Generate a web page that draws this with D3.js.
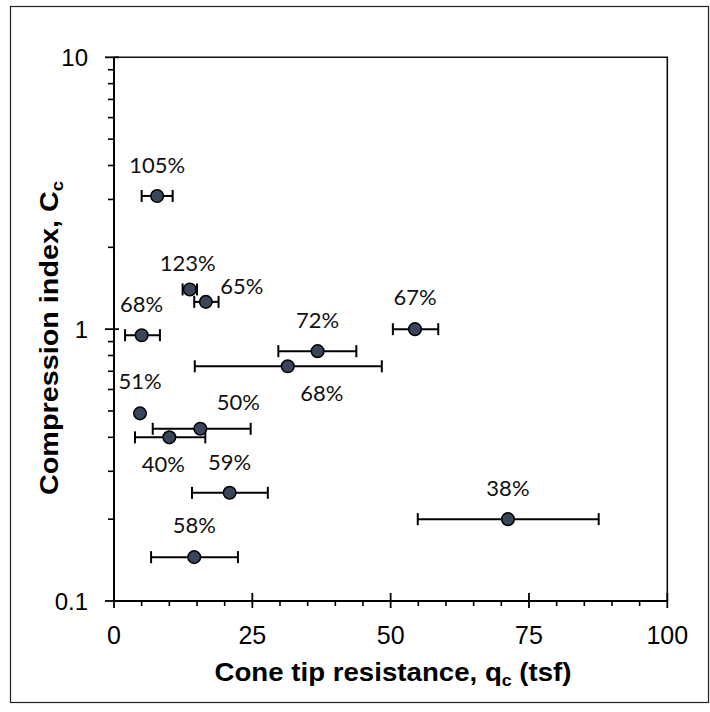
<!DOCTYPE html>
<html>
<head>
<meta charset="utf-8">
<script src="https://cdn.jsdelivr.net/npm/d3@7"></script>
<style>
  body { margin: 0; background: #fff; }
  svg { display: block; }
</style>
</head>
<body>
<svg id="chart" width="710" height="712"></svg>
<script>
// cone tip resistance (tsf) and compression index per sample
var qc     = [7.8, 13.7, 16.6, 5.0, 36.8, 31.4, 54.4, 71.2, 4.7, 15.6, 10.0, 20.9, 14.5];
var cc     = [3.09, 1.40, 1.26, 0.95, 0.83, 0.73, 1.00, 0.20, 0.49, 0.43, 0.40, 0.25, 0.145];
// horizontal error bar ends (null = no bar)
var qcLow  = [5.0, 12.4, 14.5, 2.0, 29.7, 14.6, 50.4, 54.9, null, 7.0, 3.8, 14.1, 6.7];
var qcHigh = [10.6, 15.0, 18.9, 8.3, 43.8, 48.4, 58.6, 87.6, null, 24.7, 16.5, 27.8, 22.4];
var pctLabels = ["105%", "123%", "65%", "68%", "72%", "68%", "67%", "38%", "51%", "50%", "40%", "59%", "58%"];

var xTicks = [0, 25, 50, 75, 100];
var yTicks = [0.1, 1, 10];

// label placement relative to its marker (layout only)
var labelShift = [[0, -23], [-2, -18], [36, -8], [0, -23], [0, -23], [34, 35], [0, -24],
                  [0, -23], [0, -24], [38, -19], [-6, 35], [0, -23], [0, -24]];

var svg = d3.select('#chart');
var m = {left: 114, top: 57.3, right: 667.3, bottom: 601};

var x = d3.scaleLinear().domain([0, 100]).range([m.left, m.right]);
var y = d3.scaleLog().domain([0.1, 10]).range([m.bottom, m.top]);

// outer frame
svg.append('rect')
    .attr('x', 10.5).attr('y', 6.5)
    .attr('width', 698).attr('height', 696)
    .attr('fill', 'none').attr('stroke', '#222').attr('stroke-width', 1.2);

// top and right plot edges
svg.append('path')
    .attr('d', 'M' + m.left + ',' + m.top + 'H' + m.right + 'V' + m.bottom)
    .attr('fill', 'none').attr('stroke', '#111').attr('stroke-width', 1.6);

// minor ticks
var xMinor = d3.range(0, 101, 5).filter(function(d){ return d % 25 !== 0; });
svg.selectAll('line.xminor').data(xMinor).enter().append('line')
    .attr('class', 'xminor')
    .attr('x1', x).attr('x2', x)
    .attr('y1', m.bottom).attr('y2', m.bottom + 5)
    .attr('stroke', '#000').attr('stroke-width', 1.6);

var yMinor = [];
[0.1, 1].forEach(function(b){
    d3.range(2, 10).forEach(function(k){ yMinor.push(b * k); });
});
svg.selectAll('line.yminor').data(yMinor).enter().append('line')
    .attr('class', 'yminor')
    .attr('x1', m.left - 6).attr('x2', m.left)
    .attr('y1', y).attr('y2', y)
    .attr('stroke', '#000').attr('stroke-width', 1.6);

// major ticks (cross the axis)
svg.selectAll('line.xmajor').data(xTicks).enter().append('line')
    .attr('class', 'xmajor')
    .attr('x1', x).attr('x2', x)
    .attr('y1', m.bottom - 8).attr('y2', m.bottom + 7)
    .attr('stroke', '#000').attr('stroke-width', 1.8);

svg.selectAll('line.ymajor').data(yTicks).enter().append('line')
    .attr('class', 'ymajor')
    .attr('x1', m.left - 9).attr('x2', m.left + 5)
    .attr('y1', y).attr('y2', y)
    .attr('stroke', '#000').attr('stroke-width', 1.8);

// axis lines
svg.append('line')
    .attr('x1', m.left).attr('x2', m.left)
    .attr('y1', m.top).attr('y2', m.bottom)
    .attr('stroke', '#000').attr('stroke-width', 2);
svg.append('line')
    .attr('x1', m.left).attr('x2', m.right)
    .attr('y1', m.bottom).attr('y2', m.bottom)
    .attr('stroke', '#000').attr('stroke-width', 2);

// tick labels
var axisFont = '"Liberation Sans", Arial, sans-serif';
svg.selectAll('text.xlab').data(xTicks).enter().append('text')
    .attr('class', 'xlab')
    .attr('x', x).attr('y', 644)
    .attr('text-anchor', 'middle')
    .attr('font-family', axisFont).attr('font-size', 25)
    .text(function(d){ return d; });

svg.selectAll('text.ylab').data(yTicks).enter().append('text')
    .attr('class', 'ylab')
    .attr('x', 88).attr('y', function(d){ return y(d) + 8.5; })
    .attr('text-anchor', 'end')
    .attr('font-family', axisFont).attr('font-size', 24)
    .text(function(d){ return d; });

// axis titles
var xt = svg.append('text')
    .attr('x', 393).attr('y', 681)
    .attr('text-anchor', 'middle')
    .attr('font-family', axisFont).attr('font-size', 25).attr('font-weight', 'bold')
    .attr('textLength', 357).attr('lengthAdjust', 'spacingAndGlyphs');
xt.append('tspan').text('Cone tip resistance,  q');
xt.append('tspan').attr('font-size', 16).attr('dy', 5).text('c');
xt.append('tspan').attr('dy', -5).text(' (tsf)');

var yt = svg.append('text')
    .attr('transform', 'translate(58,338) rotate(-90)')
    .attr('text-anchor', 'middle')
    .attr('font-family', axisFont).attr('font-size', 25).attr('font-weight', 'bold')
    .attr('textLength', 314).attr('lengthAdjust', 'spacingAndGlyphs');
yt.append('tspan').text('Compression index, C');
yt.append('tspan').attr('font-size', 16).attr('dy', 5).text('c');

// data
var pts = qc.map(function(d, i){
    return {q: d, c: cc[i], lo: qcLow[i], hi: qcHigh[i], label: pctLabels[i], shift: labelShift[i]};
});

var bars = svg.append('g').selectAll('g').data(pts.filter(function(d){ return d.lo !== null; }))
    .enter().append('g')
    .attr('stroke', '#000').attr('stroke-width', 2);
bars.append('line')
    .attr('x1', function(d){ return x(d.lo); }).attr('x2', function(d){ return x(d.hi); })
    .attr('y1', function(d){ return y(d.c); }).attr('y2', function(d){ return y(d.c); });
bars.append('line')
    .attr('x1', function(d){ return x(d.lo); }).attr('x2', function(d){ return x(d.lo); })
    .attr('y1', function(d){ return y(d.c) - 6; }).attr('y2', function(d){ return y(d.c) + 6; });
bars.append('line')
    .attr('x1', function(d){ return x(d.hi); }).attr('x2', function(d){ return x(d.hi); })
    .attr('y1', function(d){ return y(d.c) - 6; }).attr('y2', function(d){ return y(d.c) + 6; });

svg.append('g').selectAll('circle').data(pts).enter().append('circle')
    .attr('cx', function(d){ return x(d.q); })
    .attr('cy', function(d){ return y(d.c); })
    .attr('r', 6.3)
    .attr('fill', '#38455a')
    .attr('stroke', '#000').attr('stroke-width', 1.5);

svg.append('g').selectAll('text').data(pts).enter().append('text')
    .attr('x', function(d){ return x(d.q) + d.shift[0]; })
    .attr('y', function(d){ return y(d.c) + d.shift[1]; })
    .attr('text-anchor', 'middle')
    .attr('font-family', 'Lato, Carlito, Calibri, sans-serif').attr('font-size', 22)
    .attr('fill', '#111')
    .text(function(d){ return d.label; });
</script>
</body>
</html>
